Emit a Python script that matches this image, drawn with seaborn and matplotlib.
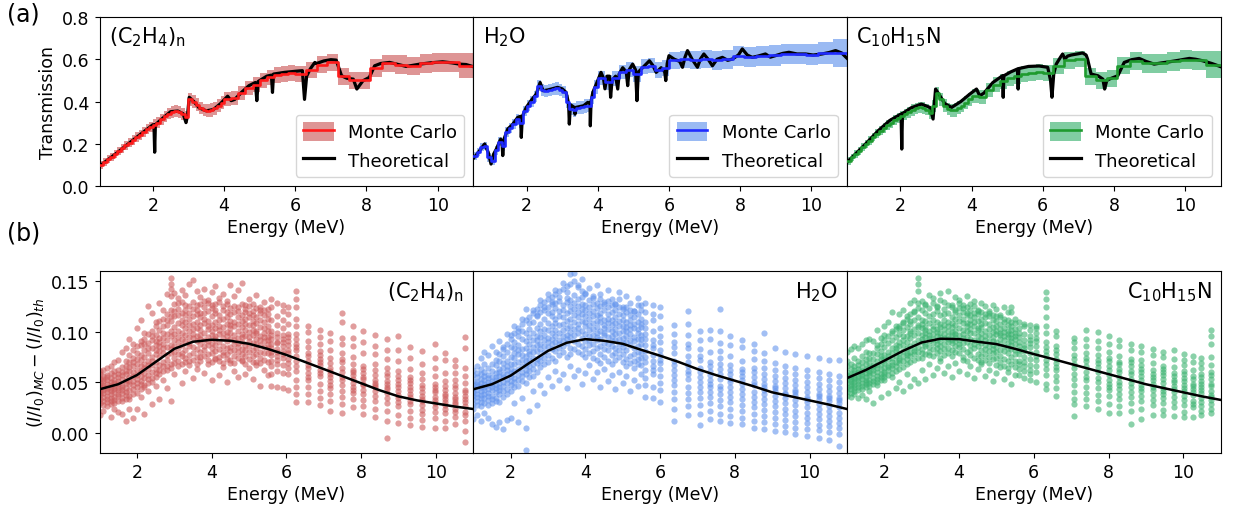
import numpy as np
import matplotlib
matplotlib.use("Agg")
import matplotlib.pyplot as plt
import seaborn as sns
from matplotlib.patches import Patch
from matplotlib.lines import Line2D

# ---------------- data: (a) transmission ----------------
energy_edges = [0.5, 0.6, 0.7, 0.8, 0.9, 1.0, 1.1, 1.2, 1.3, 1.4, 1.5, 1.6, 1.7, 1.8, 1.9, 2.0,
                2.1, 2.2, 2.3, 2.4, 2.5, 2.6, 2.7, 2.8, 2.9, 3.0, 3.1, 3.2, 3.3, 3.4, 3.5, 3.6,
                3.7, 3.8, 3.9, 4.0, 4.2, 4.4, 4.6, 4.8, 5.0, 5.2, 5.4, 5.6, 5.8, 6.0, 6.3, 6.6,
                6.9, 7.2, 7.5, 7.8, 8.1, 8.45, 8.8, 9.15, 9.5, 9.85, 10.2, 10.6, 11.0]

pe_mc = [0.100, 0.113, 0.126, 0.139, 0.152, 0.165, 0.178, 0.192, 0.205, 0.218,
         0.231, 0.243, 0.256, 0.268, 0.280, 0.290, 0.300, 0.315, 0.330, 0.342,
         0.350, 0.355, 0.350, 0.340, 0.325, 0.410, 0.400, 0.385, 0.370, 0.360,
         0.357, 0.360, 0.368, 0.380, 0.395,
         0.410, 0.415, 0.440, 0.465, 0.480, 0.500, 0.515, 0.525, 0.530, 0.535,
         0.530, 0.550, 0.575, 0.585, 0.520, 0.500, 0.500, 0.560, 0.580, 0.575,
         0.570, 0.580, 0.585, 0.585, 0.570]
pe_mc_err = [0.018, 0.018, 0.019, 0.019, 0.020, 0.020, 0.021, 0.021, 0.022, 0.022,
             0.023, 0.023, 0.024, 0.024, 0.025, 0.025, 0.026, 0.026, 0.027, 0.027,
             0.027, 0.028, 0.028, 0.028, 0.029, 0.029, 0.029, 0.030, 0.030, 0.030,
             0.031, 0.031, 0.031, 0.032, 0.032,
             0.033, 0.033, 0.034, 0.034, 0.035, 0.035, 0.035, 0.036, 0.036, 0.036,
             0.038, 0.038, 0.039, 0.039, 0.040, 0.040, 0.041, 0.042, 0.042, 0.043,
             0.043, 0.044, 0.044, 0.046, 0.060]

h2o_mc = [0.140, 0.160, 0.185, 0.190, 0.135, 0.120, 0.170, 0.210, 0.190, 0.255,
          0.275, 0.295, 0.315, 0.300, 0.355, 0.380, 0.400, 0.425, 0.475, 0.455,
          0.450, 0.455, 0.460, 0.462, 0.455, 0.445, 0.400, 0.365, 0.360, 0.370,
          0.372, 0.378, 0.380, 0.420, 0.470,
          0.510, 0.490, 0.510, 0.540, 0.550, 0.530, 0.565, 0.570, 0.550, 0.560,
          0.595, 0.600, 0.595, 0.600, 0.595, 0.600, 0.615, 0.612, 0.615, 0.618,
          0.625, 0.625, 0.622, 0.630, 0.630]
h2o_mc_err = [0.019, 0.019, 0.020, 0.020, 0.020, 0.021, 0.021, 0.022, 0.022, 0.023,
              0.023, 0.024, 0.024, 0.025, 0.025, 0.026, 0.026, 0.027, 0.027, 0.027,
              0.028, 0.028, 0.028, 0.029, 0.029, 0.030, 0.030, 0.030, 0.031, 0.031,
              0.031, 0.032, 0.032, 0.032, 0.033,
              0.034, 0.034, 0.035, 0.035, 0.036, 0.036, 0.037, 0.037, 0.038, 0.038,
              0.040, 0.041, 0.042, 0.043, 0.044, 0.045, 0.046, 0.047, 0.047, 0.048,
              0.049, 0.049, 0.050, 0.052, 0.068]

amp_mc = [0.118, 0.135, 0.152, 0.168, 0.184, 0.200, 0.215, 0.232, 0.248, 0.262,
          0.275, 0.288, 0.300, 0.312, 0.322, 0.330, 0.340, 0.350, 0.360, 0.368,
          0.372, 0.370, 0.362, 0.345, 0.380, 0.440, 0.410, 0.380, 0.365, 0.358,
          0.360, 0.370, 0.380, 0.395, 0.410,
          0.425, 0.420, 0.455, 0.480, 0.495, 0.510, 0.520, 0.530, 0.535, 0.540,
          0.535, 0.570, 0.595, 0.600, 0.520, 0.500, 0.510, 0.570, 0.590, 0.580,
          0.580, 0.590, 0.598, 0.595, 0.575]
amp_mc_err = [0.018, 0.018, 0.019, 0.019, 0.020, 0.020, 0.021, 0.021, 0.022, 0.022,
              0.023, 0.023, 0.024, 0.024, 0.025, 0.025, 0.026, 0.026, 0.027, 0.027,
              0.027, 0.028, 0.028, 0.028, 0.029, 0.029, 0.029, 0.030, 0.030, 0.030,
              0.031, 0.031, 0.031, 0.032, 0.032,
              0.033, 0.033, 0.034, 0.034, 0.035, 0.035, 0.035, 0.036, 0.036, 0.036,
              0.038, 0.038, 0.039, 0.039, 0.040, 0.040, 0.041, 0.042, 0.042, 0.043,
              0.043, 0.044, 0.044, 0.046, 0.062]

pe_th_E = [0.5, 1.0, 1.5, 2.0, 2.03, 2.05, 2.07, 2.2, 2.5, 2.7, 2.85, 2.93, 2.97, 3.02, 3.15,
           3.3, 3.5, 3.7, 3.9, 4.1, 4.2, 4.3, 4.5, 4.7, 4.88, 4.92, 4.96, 5.2, 5.33, 5.36,
           5.39, 5.7, 6.0, 6.2, 6.26, 6.32, 6.42, 6.55, 6.6, 6.8, 7.0, 7.15, 7.3, 7.45, 7.63,
           7.73, 7.9, 8.08, 8.23, 8.4, 8.65, 8.9, 9.12, 9.5, 9.8, 10.14, 10.4, 10.61, 10.8, 11.0]
pe_th_T = [0.094, 0.158, 0.225, 0.290, 0.290, 0.160, 0.290, 0.310, 0.352, 0.355, 0.342, 0.300,
           0.330, 0.420, 0.400, 0.370, 0.356, 0.362, 0.390, 0.425, 0.404, 0.410, 0.445, 0.475,
           0.490, 0.404, 0.495, 0.520, 0.525, 0.443, 0.530, 0.538, 0.543, 0.546, 0.410, 0.520,
           0.554, 0.585, 0.580, 0.592, 0.598, 0.596, 0.522, 0.510, 0.506, 0.459, 0.498, 0.514,
           0.569, 0.580, 0.585, 0.575, 0.566, 0.577, 0.583, 0.588, 0.583, 0.577, 0.575, 0.565]

h2o_th_E = [0.5, 0.6, 0.82, 0.92, 1.0, 1.07, 1.15, 1.27, 1.31, 1.33, 1.36, 1.47, 1.6, 1.75, 1.83,
            1.85, 1.88, 1.99, 2.15, 2.27, 2.38, 2.46, 2.6, 2.87, 3.0, 3.11, 3.18, 3.2, 3.23,
            3.34, 3.36, 3.38, 3.6, 3.72, 3.78, 3.79, 3.81, 3.86, 4.0, 4.09, 4.16, 4.2, 4.26,
            4.33, 4.36, 4.4, 4.5, 4.56, 4.6, 4.7, 4.8, 4.84, 4.88, 4.98, 5.06, 5.1, 5.14, 5.26,
            5.45, 5.55, 5.64, 5.78, 5.88, 5.91, 5.95, 6.0, 6.15, 6.3, 6.38, 6.45, 6.52, 6.65,
            6.8, 6.88, 6.98, 7.1, 7.22, 7.35, 7.5, 7.65, 7.78, 7.95, 8.06, 8.2, 8.34, 8.5,
            8.71, 8.85, 8.99, 9.2, 9.37, 9.6, 9.84, 10.05, 10.3, 10.5, 10.68, 10.85, 11.0]
h2o_th_T = [0.130, 0.150, 0.199, 0.160, 0.104, 0.150, 0.175, 0.222, 0.200, 0.144, 0.220, 0.270,
            0.290, 0.325, 0.330, 0.230, 0.330, 0.372, 0.410, 0.435, 0.490, 0.451, 0.455, 0.467,
            0.460, 0.443, 0.390, 0.293, 0.385, 0.372, 0.340, 0.372, 0.380, 0.396, 0.390, 0.285,
            0.400, 0.443, 0.500, 0.538, 0.510, 0.460, 0.520, 0.520, 0.420, 0.500, 0.520, 0.459,
            0.530, 0.560, 0.540, 0.475, 0.550, 0.577, 0.550, 0.404, 0.540, 0.560, 0.593, 0.570,
            0.538, 0.560, 0.540, 0.499, 0.580, 0.617, 0.600, 0.590, 0.562, 0.610, 0.641, 0.600,
            0.562, 0.600, 0.625, 0.600, 0.569, 0.600, 0.609, 0.595, 0.601, 0.620, 0.649, 0.620,
            0.609, 0.615, 0.625, 0.610, 0.617, 0.628, 0.633, 0.625, 0.625, 0.620, 0.625, 0.632,
            0.641, 0.630, 0.605]

amp_th_E = [0.5, 1.0, 1.38, 1.7, 2.02, 2.04, 2.06, 2.3, 2.59, 2.83, 2.92, 2.95, 2.99, 3.1, 3.25,
            3.44, 3.7, 3.95, 4.14, 4.23, 4.35, 4.6, 4.87, 4.89, 4.91, 5.1, 5.29, 5.31, 5.33,
            5.6, 5.9, 6.14, 6.22, 6.26, 6.31, 6.38, 6.5, 6.56, 6.62, 6.7, 6.8, 7.0, 7.12, 7.22,
            7.26, 7.36, 7.55, 7.69, 7.74, 7.8, 7.87, 8.11, 8.29, 8.5, 8.71, 8.9, 9.13, 9.35,
            9.56, 9.85, 10.12, 10.3, 10.49, 10.75, 11.0]
amp_th_T = [0.112, 0.195, 0.262, 0.310, 0.341, 0.175, 0.343, 0.370, 0.388, 0.372, 0.317, 0.380,
            0.459, 0.430, 0.390, 0.372, 0.400, 0.435, 0.459, 0.427, 0.440, 0.490, 0.522, 0.420,
            0.522, 0.540, 0.554, 0.459, 0.556, 0.566, 0.568, 0.562, 0.500, 0.420, 0.530, 0.577,
            0.610, 0.625, 0.601, 0.615, 0.620, 0.626, 0.630, 0.620, 0.601, 0.530, 0.522, 0.506,
            0.459, 0.500, 0.506, 0.522, 0.585, 0.598, 0.604, 0.590, 0.577, 0.583, 0.588, 0.596,
            0.604, 0.600, 0.593, 0.580, 0.565]

# ---------------- data: (b) MC - theory difference ----------------
fit_E = [1.0, 1.5, 2.0, 2.5, 3.0, 3.5, 4.0, 4.5, 5.0, 5.5, 6.0, 6.5, 7.0, 7.5, 8.0, 8.5,
         9.0, 9.5, 10.0, 10.5, 11.0]
pe_fit = [0.043, 0.048, 0.057, 0.070, 0.083, 0.090, 0.092, 0.091, 0.088, 0.083, 0.077,
          0.070, 0.063, 0.056, 0.049, 0.042, 0.036, 0.032, 0.029, 0.026, 0.0235]
h2o_fit = [0.043, 0.048, 0.0565, 0.069, 0.081, 0.089, 0.0926, 0.091, 0.088, 0.082, 0.0762,
           0.070, 0.063, 0.057, 0.0515, 0.046, 0.040, 0.036, 0.032, 0.028, 0.0235]
amp_fit = [0.054, 0.062, 0.0713, 0.081, 0.0893, 0.093, 0.0926, 0.090, 0.0877, 0.083, 0.0778,
           0.073, 0.068, 0.063, 0.058, 0.053, 0.048, 0.044, 0.040, 0.036, 0.0325]

# scatter columns: energy (MeV) and the differences read at that energy (units of 1e-3)
pe_diff_E = [1.0, 1.1, 1.2, 1.3, 1.4, 1.5, 1.6, 1.7, 1.8, 1.9, 2.0, 2.1, 2.2, 2.3, 2.4, 2.5,
             2.6, 2.7, 2.8, 2.9, 3.0, 3.1, 3.2, 3.3, 3.4, 3.5, 3.6, 3.7, 3.8, 3.9, 4.0, 4.1,
             4.2, 4.3, 4.4, 4.5, 4.6, 4.7, 4.8, 4.9, 5.0, 5.1, 5.2, 5.3, 5.4, 5.5,
             5.6, 5.75, 5.9, 6.05, 6.25, 6.58, 6.9, 7.17, 7.48, 7.79, 8.06, 8.37, 8.69, 9.0,
             9.31, 9.62, 9.98, 10.25, 10.52, 10.79]
pe_diff_milli = [
    [44, 29, 53, 37, 58, 41, 33, 49, 61, 46, 18, 39],
    [35, 51, 42, 27, 56, 47, 31, 62, 39, 53, 22, 45],
    [48, 33, 57, 40, 45, 30, 52, 36, 64, 43, 26, 55],
    [31, 44, 59, 38, 50, 34, 47, 28, 54, 41, 66, 16],
    [52, 40, 29, 46, 61, 35, 49, 43, 57, 32, 24, 70],
    [38, 55, 44, 31, 48, 62, 36, 51, 42, 58, 21, 72],
    [47, 34, 60, 42, 53, 31, 65, 45, 39, 57, 19, 80],
    [40, 58, 49, 33, 66, 44, 71, 52, 37, 61, 12, 84],
    [55, 42, 70, 36, 61, 48, 77, 51, 33, 65, 24, 93],
    [47, 66, 38, 74, 56, 43, 82, 60, 51, 70, 15, 88],
    [62, 45, 79, 53, 68, 39, 86, 57, 73, 49, 24, 104],
    [51, 72, 43, 87, 61, 77, 48, 66, 91, 56, 35, 112],
    [68, 47, 82, 59, 93, 54, 75, 64, 45, 88, 19, 99],
    [57, 89, 71, 49, 79, 63, 98, 53, 84, 67, 41, 125],
    [75, 54, 92, 67, 101, 60, 84, 50, 71, 96, 28, 118],
    [63, 97, 78, 55, 87, 70, 106, 59, 82, 91, 46, 110],
    [86, 58, 75, 102, 67, 94, 81, 111, 62, 90, 33, 128],
    [70, 99, 61, 88, 113, 79, 66, 94, 84, 106, 52, 121],
    [92, 66, 107, 77, 117, 85, 62, 98, 72, 112, 44, 137],
    [79, 111, 68, 96, 121, 87, 101, 64, 83, 115, 142, 153, 147, 31, 135],
    [98, 74, 115, 86, 127, 69, 105, 92, 80, 120, 58, 138],
    [84, 122, 95, 71, 109, 78, 128, 101, 90, 116, 66, 133],
    [107, 79, 118, 93, 68, 129, 87, 112, 99, 76, 49, 141],
    [91, 126, 74, 104, 116, 82, 97, 70, 121, 110, 61, 136],
    [113, 86, 101, 125, 77, 95, 67, 118, 107, 89, 71, 147],
    [79, 108, 94, 129, 72, 115, 103, 85, 122, 98, 54, 151],
    [104, 126, 83, 96, 117, 75, 110, 68, 121, 91, 63, 140],
    [88, 114, 71, 102, 127, 93, 80, 118, 107, 97, 75, 134],
    [118, 82, 99, 124, 76, 109, 92, 130, 86, 113, 59, 142],
    [95, 72, 111, 87, 128, 103, 78, 120, 91, 106, 68, 131],
    [107, 123, 84, 97, 70, 115, 101, 89, 126, 79, 52, 139],
    [81, 110, 96, 127, 74, 104, 118, 87, 93, 121, 73, 145],
    [116, 90, 75, 106, 98, 129, 83, 112, 71, 102, 57, 133],
    [99, 121, 86, 69, 113, 94, 80, 125, 105, 77, 65, 137],
    [73, 108, 91, 119, 84, 100, 127, 78, 114, 96, 50, 130],
    [111, 85, 104, 72, 123, 93, 117, 81, 99, 107, 69, 146],
    [88, 125, 76, 97, 110, 82, 119, 92, 69, 106, 61, 135],
    [120, 94, 80, 114, 101, 74, 89, 124, 108, 85, 55, 141],
    [83, 105, 98, 71, 116, 90, 127, 78, 111, 95, 72, 148],
    [102, 76, 119, 87, 108, 96, 68, 113, 82, 122, 58, 126],
    [91, 114, 73, 100, 86, 125, 80, 107, 95, 118, 64, 132],
    [107, 82, 97, 120, 70, 111, 89, 102, 76, 116, 53, 127],
    [78, 101, 114, 88, 123, 93, 67, 109, 84, 99, 70, 136],
    [96, 118, 74, 105, 87, 112, 80, 121, 92, 69, 46, 124],
    [110, 85, 99, 72, 116, 91, 104, 79, 121, 95, 62, 129],
    [88, 106, 79, 113, 95, 70, 101, 117, 84, 92, 57, 122],
    [84, 101, 66, 93, 77, 112, 58, 88, 124, 71, 97, 80, 132, 46],
    [72, 95, 83, 107, 61, 89, 76, 115, 99, 68, 80, 128, 45, 90],
    [90, 67, 81, 104, 74, 112, 86, 59, 97, 78, 120, 93, 44, 126],
    [79, 98, 64, 87, 108, 73, 91, 82, 117, 58, 95, 69, 42, 124],
    [82, 61, 98, 71, 113, 88, 52, 76, 124, 93, 66, 106, 132, 45, 140, 38, 30, 85],
    [64, 79, 52, 91, 71, 45, 85, 59, 100, 67, 38, 76, 55, 30, 106],
    [73, 56, 88, 62, 48, 81, 67, 41, 95, 59, 77, 34, 102, 27, 70],
    [51, 69, 44, 82, 58, 74, 38, 64, 91, 47, 61, 31, 99, 22, 55],
    [64, 47, 79, 55, 88, 41, 70, 60, 35, 94, 52, 73, 110, 118, 20, 28],
    [45, 62, 53, 75, 39, 68, 57, 86, 33, 49, 60, 94, 25, 106, 42],
    [53, 38, 66, 47, 59, 79, 42, 55, 32, 90, 63, 48, 26, 101, 19],
    [41, 57, 49, 68, 36, 52, 45, 78, 31, 62, 86, 47, 24, 97, 16],
    [48, 34, 56, 43, 64, 39, 51, 73, 29, 59, 45, 82, 22, 93, -5, 12],
    [37, 52, 30, 45, 61, 41, 34, 71, 56, 26, 48, 82, 18, 96, 10],
    [45, 31, 55, 38, 49, 28, 63, 42, 35, 74, 52, 22, 85, 8, 15],
    [33, 47, 27, 53, 40, 36, 59, 23, 44, 68, 31, 19, 81, 6, 13],
    [40, 29, 48, 35, 56, 25, 42, 32, 64, 45, 21, 74, 15, 5, 88],
    [27, 42, 33, 51, 24, 38, 46, 30, 59, 20, 36, 72, 12, 5, 79],
    [35, 24, 44, 30, 52, 21, 39, 28, 47, 16, 59, 33, 9, 66, 72],
    [30, 21, 42, 26, 36, 49, 18, 33, 56, 12, 40, 64, 2, -9, 84, 95]]

h2o_diff_E = [1.0, 1.1, 1.2, 1.3, 1.4, 1.5, 1.6, 1.7, 1.8, 1.9, 2.0, 2.1, 2.2, 2.3, 2.4, 2.5,
              2.6, 2.7, 2.8, 2.9, 3.0, 3.1, 3.2, 3.3, 3.4, 3.5, 3.6, 3.7, 3.8, 3.9, 4.0, 4.1,
              4.2, 4.3, 4.4, 4.5, 4.6, 4.7, 4.8, 4.9, 5.0, 5.1, 5.2, 5.3, 5.4, 5.5,
              5.6, 5.8, 6.0, 6.36, 6.76, 7.07, 7.34, 7.61, 7.88, 8.19, 8.5, 8.77, 9.08, 9.35,
              9.62, 9.93, 10.24, 10.51, 10.78]
h2o_diff_milli = [
    [39, 28, 51, 44, 33, 57, 36, 47, 24, 62, 14, 41],
    [46, 31, 55, 38, 27, 50, 42, 59, 35, 66, 18, 48],
    [34, 49, 41, 58, 30, 45, 37, 53, 26, 63, 12, 74],
    [52, 38, 45, 29, 60, 42, 34, 56, 48, 68, 20, 80],
    [43, 57, 32, 50, 39, 64, 27, 47, 54, 36, 15, 77],
    [36, 48, 61, 42, 29, 55, 45, 33, 68, 51, 9, 86],
    [55, 40, 47, 67, 34, 52, 44, 59, 31, 72, 6, 80],
    [45, 63, 38, 56, 71, 49, 30, 60, 42, 78, 11, 91],
    [58, 41, 69, 50, 35, 76, 55, 46, 64, 83, 4, 85],
    [49, 66, 43, 80, 58, 38, 71, 53, 62, 88, 13, 98],
    [63, 47, 75, 56, 85, 41, 68, 59, 51, 93, 15, 97],
    [54, 79, 45, 68, 90, 61, 50, 74, 84, 99, 29, 106],
    [70, 52, 87, 63, 96, 57, 78, 46, 82, 104, 11, 101],
    [60, 83, 72, 51, 93, 66, 101, 56, 77, 108, 34, 113],
    [76, 58, 91, 67, 49, 84, 71, 99, 62, 112, -17, 5, 122],
    [66, 95, 81, 55, 103, 72, 88, 61, 78, 114, 22, 109],
    [85, 63, 99, 74, 110, 68, 92, 56, 80, 118, 41, 121],
    [73, 104, 87, 60, 96, 115, 69, 81, 92, 122, 27, 116],
    [95, 71, 108, 83, 65, 101, 88, 119, 76, 126, 47, 131],
    [80, 113, 92, 68, 103, 86, 121, 74, 97, 129, 39, 124],
    [102, 77, 94, 118, 70, 109, 85, 124, 90, 132, 55, 137],
    [88, 115, 99, 74, 127, 83, 106, 93, 119, 134, 46, 129],
    [109, 81, 123, 96, 71, 113, 90, 128, 102, 137, 61, 141],
    [92, 120, 84, 107, 130, 77, 99, 115, 88, 140, 52, 134],
    [114, 86, 102, 126, 80, 96, 121, 108, 91, 142, 58, 148],
    [97, 129, 89, 111, 75, 104, 133, 93, 118, 145, 44, 139],
    [120, 84, 106, 131, 95, 113, 78, 125, 100, 147, 66, 157],
    [91, 116, 136, 103, 83, 122, 97, 110, 128, 150, 56, 158],
    [108, 125, 88, 99, 132, 114, 80, 119, 104, 146, 62, 144],
    [122, 94, 111, 78, 127, 101, 117, 86, 134, 140, 48, 152],
    [98, 115, 83, 126, 106, 91, 121, 110, 75, 137, 59, 138],
    [113, 87, 102, 124, 96, 79, 118, 107, 131, 92, 67, 143],
    [81, 109, 97, 120, 88, 127, 103, 74, 115, 135, 53, 133],
    [105, 123, 84, 99, 116, 92, 72, 111, 128, 95, 60, 146],
    [118, 93, 78, 110, 86, 125, 101, 114, 69, 132, 45, 137],
    [89, 104, 121, 75, 97, 112, 83, 127, 107, 99, 63, 129],
    [109, 82, 117, 95, 71, 103, 124, 88, 113, 130, 51, 141],
    [96, 119, 86, 107, 77, 112, 91, 126, 68, 101, 57, 132],
    [79, 103, 114, 92, 121, 84, 98, 72, 109, 127, 43, 127],
    [111, 88, 99, 124, 75, 106, 82, 117, 93, 132, 60, 139],
    [94, 116, 70, 101, 85, 112, 89, 122, 78, 106, 49, 124],
    [82, 105, 96, 119, 73, 90, 110, 66, 101, 124, 56, 135],
    [107, 87, 116, 76, 98, 69, 112, 92, 121, 103, 41, 128],
    [71, 95, 104, 84, 114, 91, 64, 108, 78, 120, 52, 120],
    [99, 80, 110, 93, 73, 117, 86, 103, 68, 126, 46, 133],
    [88, 105, 67, 97, 113, 79, 93, 121, 74, 108, 58, 126],
    [75, 98, 62, 87, 110, 70, 93, 54, 119, 81, 47, 128, 35, 104],
    [84, 66, 101, 77, 58, 92, 112, 71, 87, 45, 117, 62, 34, 126],
    [69, 90, 56, 82, 104, 63, 77, 96, 49, 115, 72, 42, 124, 30],
    [62, 79, 47, 90, 57, 71, 40, 85, 98, 52, 67, 33, 107, 24, 12],
    [70, 53, 84, 61, 45, 76, 97, 58, 39, 88, 66, 33, 108, 26, 120, 18],
    [55, 72, 45, 64, 83, 50, 40, 92, 60, 34, 76, 27, 101, 19, 8],
    [48, 66, 57, 80, 40, 70, 52, 93, 35, 61, 45, 29, 102, 22, 14],
    [63, 46, 74, 53, 38, 68, 58, 89, 43, 81, 32, 101, 26, 122, 19, 12],
    [50, 67, 40, 58, 76, 45, 35, 62, 87, 53, 30, 96, 24, 17, 10],
    [43, 60, 52, 71, 38, 48, 85, 33, 63, 56, 27, 92, 22, 15, 9],
    [55, 40, 64, 47, 35, 73, 50, 30, 81, 60, 25, 88, 19, 12, 5],
    [38, 53, 45, 64, 33, 58, 48, 71, 28, 79, 42, 23, 99, 17, 4, 11],
    [46, 31, 56, 41, 62, 36, 51, 26, 69, 44, 21, 84, 15, 9, 2],
    [34, 49, 39, 60, 29, 44, 54, 24, 66, 38, 19, 80, 13, 7, 1],
    [42, 27, 52, 37, 47, 32, 58, 22, 64, 40, 17, 78, 11, 5, -1],
    [30, 45, 35, 56, 25, 40, 50, 20, 62, 33, 15, 76, 10, 4, -3],
    [38, 24, 48, 33, 43, 28, 54, 19, 60, 36, 14, 74, 8, 3, -5],
    [26, 41, 31, 46, 22, 36, 52, 17, 58, 34, 12, 72, 7, 1, -7],
    [34, 20, 44, 29, 39, 25, 50, 15, 56, 32, 10, 72, 5, -1, -13]]

amp_diff_E = [1.0, 1.1, 1.2, 1.3, 1.4, 1.5, 1.6, 1.7, 1.8, 1.9, 2.0, 2.1, 2.2, 2.3, 2.4, 2.5,
              2.6, 2.7, 2.8, 2.9, 3.0, 3.1, 3.2, 3.3, 3.4, 3.5, 3.6, 3.7, 3.8, 3.9, 4.0, 4.1,
              4.2, 4.3, 4.4, 4.5, 4.6, 4.7, 4.8, 4.9, 5.0, 5.1, 5.2, 5.3, 5.4, 5.5,
              5.6, 5.75, 5.9, 6.05, 6.32, 6.6, 7.08, 7.39, 7.71, 8.02, 8.29, 8.6, 8.87, 9.18,
              9.45, 9.76, 10.03, 10.26, 10.48, 10.75]
amp_diff_milli = [
    [52, 45, 60, 40, 57, 49, 66, 43, 55, 36, 71, 80],
    [48, 58, 43, 63, 51, 39, 56, 46, 68, 53, 35, 83],
    [55, 47, 62, 41, 50, 66, 44, 59, 53, 38, 74, 86],
    [45, 60, 51, 67, 42, 56, 48, 63, 34, 71, 54, 84],
    [58, 49, 65, 43, 61, 53, 70, 46, 56, 37, 76, 88],
    [50, 63, 55, 45, 68, 59, 48, 73, 52, 33, 80, 92],
    [61, 52, 69, 46, 57, 64, 74, 49, 59, 41, 79, 93],
    [54, 67, 59, 48, 73, 62, 51, 79, 65, 29, 91],
    [64, 56, 71, 50, 78, 60, 67, 84, 53, 47, 87, 102],
    [58, 73, 63, 52, 81, 68, 76, 55, 88, 35, 94],
    [69, 60, 77, 55, 85, 64, 72, 92, 58, 52, 97, 106],
    [62, 80, 67, 57, 89, 73, 65, 96, 76, 39, 110],
    [74, 64, 84, 59, 92, 70, 79, 99, 67, 55, 101, 119],
    [66, 87, 76, 61, 95, 81, 70, 103, 84, 44, 106],
    [79, 69, 90, 63, 98, 74, 86, 106, 72, 50, 104, 117],
    [71, 92, 81, 65, 102, 87, 76, 109, 96, 41, 121, 110],
    [84, 73, 96, 68, 105, 79, 90, 113, 77, 58, 115],
    [76, 99, 86, 70, 108, 94, 80, 117, 101, 46, 111, 128],
    [89, 78, 103, 72, 112, 84, 97, 120, 81, 53, 119, 131],
    [80, 105, 92, 74, 114, 99, 85, 123, 107, 49, 128, 140, 147, 153],
    [97, 83, 112, 74, 104, 90, 121, 79, 108, 93, 62, 130],
    [86, 105, 95, 118, 78, 99, 111, 88, 126, 102, 53, 127],
    [109, 91, 80, 101, 123, 85, 97, 115, 94, 77, 68, 136],
    [93, 117, 83, 106, 98, 128, 89, 112, 76, 103, 57, 133],
    [103, 88, 120, 96, 79, 110, 92, 125, 100, 84, 64, 124],
    [81, 99, 108, 91, 116, 86, 131, 95, 105, 74, 71, 138],
    [112, 94, 77, 103, 122, 88, 98, 117, 83, 107, 59, 129],
    [90, 106, 118, 84, 96, 110, 79, 126, 101, 93, 66, 140],
    [105, 82, 97, 114, 89, 124, 100, 76, 109, 92, 55, 126],
    [95, 113, 86, 101, 121, 80, 107, 91, 119, 98, 69, 134],
    [88, 111, 97, 123, 79, 104, 116, 92, 128, 85, 61, 131],
    [102, 83, 119, 94, 109, 75, 126, 98, 113, 89, 72, 123],
    [95, 116, 80, 106, 124, 90, 101, 71, 118, 109, 58, 135],
    [77, 99, 112, 87, 121, 103, 93, 116, 82, 108, 66, 127],
    [110, 92, 84, 118, 99, 74, 106, 125, 88, 114, 54, 130],
    [86, 104, 120, 96, 78, 111, 91, 102, 117, 72, 63, 121],
    [99, 76, 113, 89, 105, 82, 119, 94, 70, 108, 68, 128],
    [114, 87, 96, 72, 109, 101, 83, 117, 92, 78, 56, 125],
    [81, 103, 91, 115, 75, 97, 108, 86, 120, 69, 62, 118],
    [95, 112, 79, 100, 87, 116, 73, 105, 91, 83, 51, 126],
    [106, 85, 98, 74, 111, 90, 80, 115, 67, 101, 59, 122],
    [76, 97, 108, 88, 70, 103, 93, 114, 82, 99, 65, 116],
    [92, 81, 104, 96, 110, 73, 86, 100, 66, 113, 53, 124],
    [101, 71, 89, 107, 79, 95, 112, 84, 98, 64, 60, 119],
    [83, 98, 75, 106, 91, 110, 68, 94, 102, 87, 48, 119, 124],
    [96, 78, 103, 88, 65, 99, 109, 82, 93, 71, 57, 113],
    [78, 95, 63, 86, 104, 71, 90, 57, 82, 99, 68, 110],
    [87, 70, 98, 61, 81, 92, 75, 106, 66, 84, 54, 108],
    [73, 89, 58, 96, 79, 67, 85, 102, 62, 92, 52, 107],
    [91, 66, 80, 99, 72, 86, 60, 94, 76, 104, 50, 106],
    [68, 85, 57, 99, 77, 114, 63, 90, 124, 72, 106, 48, 132, 139, 81, 43],
    [62, 78, 51, 86, 69, 96, 56, 73, 44, 82, 65, 101, 36],
    [58, 73, 47, 84, 64, 40, 77, 53, 90, 68, 33, 94, 28, 17],
    [66, 52, 79, 45, 71, 60, 86, 39, 74, 55, 93, 33, 102, 26],
    [54, 69, 44, 77, 60, 37, 72, 50, 84, 65, 31, 91, 100, 24],
    [62, 48, 71, 42, 57, 80, 52, 66, 36, 74, 45, 88, 28, 96, 20],
    [50, 63, 43, 70, 55, 38, 76, 60, 47, 33, 68, 86, 26, 92, 20],
    [58, 45, 66, 40, 53, 73, 49, 61, 35, 70, 29, 82, 22, 88, 9],
    [47, 60, 41, 67, 52, 36, 72, 56, 44, 31, 63, 80, 24, 86, 14],
    [55, 42, 62, 48, 37, 69, 52, 58, 32, 45, 77, 27, 83, 18],
    [44, 57, 38, 63, 49, 34, 66, 53, 41, 29, 60, 75, 23, 80, 18],
    [52, 40, 59, 46, 35, 65, 50, 43, 30, 56, 73, 25, 82, 17],
    [41, 54, 36, 61, 47, 32, 67, 51, 44, 27, 58, 72, 21, 78, 16],
    [48, 37, 56, 43, 31, 62, 46, 53, 28, 40, 70, 25, 76, 16],
    [39, 51, 34, 58, 45, 30, 64, 48, 42, 26, 55, 69, 22, 74, 18],
    [46, 35, 53, 41, 28, 60, 48, 37, 57, 24, 67, 32, 75, 20, 88, 96, 102]]

materials = [r"(C$_2$H$_4$)$_\mathregular{n}$", r"H$_2$O", r"C$_{10}$H$_{15}$N"]
xticks = [2, 4, 6, 8, 10]

# ---------------- styling ----------------
line_colors = ["#ff1a1a", "#1f2bff", "#1e9a2e"]
band_colors = ["indianred", "cornflowerblue", "mediumseagreen"]
scatter_colors = ["indianred", "cornflowerblue", "mediumseagreen"]

plt.rcParams["font.family"] = ["DejaVu Sans"]
plt.rcParams["mathtext.fontset"] = "dejavusans"

fig = plt.figure(figsize=(12.33, 5.10), dpi=100)
gs_top = fig.add_gridspec(1, 3, left=0.0807, right=0.990, top=0.9647, bottom=0.6333, wspace=0)
gs_bot = fig.add_gridspec(1, 3, left=0.0807, right=0.990, top=0.4667, bottom=0.1098, wspace=0)

mc_sets = [(pe_mc, pe_mc_err), (h2o_mc, h2o_mc_err), (amp_mc, amp_mc_err)]
th_sets = [(pe_th_E, pe_th_T), (h2o_th_E, h2o_th_T), (amp_th_E, amp_th_T)]
diff_sets = [(pe_diff_E, pe_diff_milli), (h2o_diff_E, h2o_diff_milli), (amp_diff_E, amp_diff_milli)]
fit_sets = [pe_fit, h2o_fit, amp_fit]

TICK_FS = 12.5
LABEL_FS = 12.5

edges = np.array(energy_edges)
for i in range(3):
    # ---------- top: transmission ----------
    ax = fig.add_subplot(gs_top[0, i])
    mc = np.array(mc_sets[i][0])
    err = np.array(mc_sets[i][1])
    lo = np.append(mc - err, (mc - err)[-1])
    hi = np.append(mc + err, (mc + err)[-1])
    ax.fill_between(edges, lo, hi, step="post", color=band_colors[i], alpha=0.65,
                    linewidth=0, zorder=1)
    sns.lineplot(x=th_sets[i][0], y=th_sets[i][1], color="black", lw=2.3, ax=ax,
                 estimator=None, sort=False, zorder=2)
    sns.lineplot(x=edges, y=np.append(mc, mc[-1]), color=line_colors[i], lw=1.9, ax=ax,
                 drawstyle="steps-post", estimator=None, sort=False, zorder=3)
    ax.set_xlim(0.5, 11.0)
    ax.set_ylim(0.0, 0.8)
    ax.set_xticks(xticks)
    ax.set_yticks([0.0, 0.2, 0.4, 0.6, 0.8])
    ax.set_xlabel("Energy (MeV)", fontsize=LABEL_FS, labelpad=3)
    ax.tick_params(labelsize=TICK_FS)
    if i == 0:
        ax.set_ylabel("Transmission", fontsize=LABEL_FS)
    else:
        ax.set_ylabel("")
        ax.tick_params(axis="y", left=False, labelleft=False)
    ax.text(0.025, 0.955, materials[i], transform=ax.transAxes, ha="left", va="top",
            fontsize=15)
    mc_handle = (Patch(facecolor=band_colors[i], alpha=0.65, linewidth=0),
                 Line2D([], [], color=line_colors[i], lw=1.9))
    th_handle = Line2D([], [], color="black", lw=2.3)
    ax.legend([mc_handle, th_handle], ["Monte Carlo", "Theoretical"], loc="lower right",
              fontsize=13, handlelength=1.7, handleheight=1.2)

    # ---------- bottom: difference ----------
    axb = fig.add_subplot(gs_bot[0, i])
    xs, ys = [], []
    for e, col in zip(diff_sets[i][0], diff_sets[i][1]):
        xs.extend([e] * len(col))
        ys.extend([v / 1000.0 for v in col])
    sns.scatterplot(x=xs, y=ys, color=scatter_colors[i], s=20, alpha=0.6, linewidth=0,
                    ax=axb, zorder=1)
    sns.lineplot(x=fit_E, y=fit_sets[i], color="black", lw=1.8, ax=axb, estimator=None,
                 sort=False, zorder=3)
    axb.set_xlim(1.0, 11.0)
    axb.set_ylim(-0.02, 0.16)
    axb.set_xticks(xticks)
    axb.set_yticks([0.0, 0.05, 0.10, 0.15])
    axb.set_xlabel("Energy (MeV)", fontsize=LABEL_FS, labelpad=3)
    axb.tick_params(labelsize=TICK_FS)
    if i == 0:
        axb.set_ylabel(r"$(I/I_0)_{MC}-(I/I_0)_{th}$", fontsize=LABEL_FS)
    else:
        axb.set_ylabel("")
        axb.tick_params(axis="y", left=False, labelleft=False)
    axb.text(0.975, 0.955, materials[i], transform=axb.transAxes, ha="right", va="top",
             fontsize=15)

fig.text(0.006, 0.995, "(a)", fontsize=17, ha="left", va="top")
fig.text(0.006, 0.565, "(b)", fontsize=17, ha="left", va="top")

fig.savefig("out.png", dpi=100)
